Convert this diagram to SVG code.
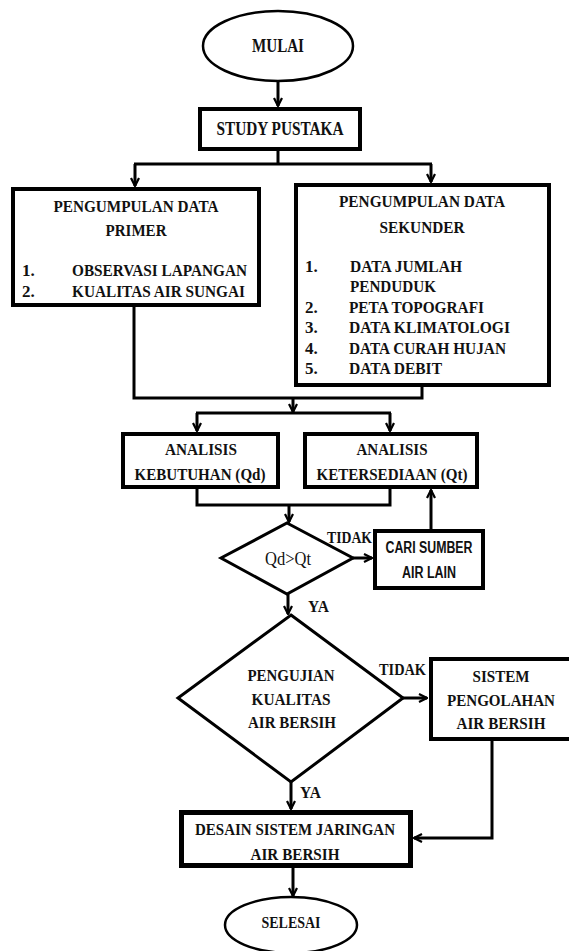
<svg xmlns="http://www.w3.org/2000/svg" width="569" height="951" viewBox="0 0 569 951">
<defs>
<marker id="arr" viewBox="0 0 10 10" refX="9" refY="5" markerWidth="10" markerHeight="10" markerUnits="userSpaceOnUse" orient="auto">
<path d="M1,1 L9,5 L1,9" fill="none" stroke="#000" stroke-width="2.2"/>
</marker>
<style>
.box{fill:#fff;stroke:#000;stroke-width:4}
.thin{fill:#fff;stroke:#000;stroke-width:3}
.t{font-family:"Liberation Serif","Times New Roman",serif;font-weight:bold;font-size:17px;fill:#111}
.c{text-anchor:middle}
.s{font-family:"Liberation Sans",Arial,sans-serif;font-weight:bold;font-size:16px;fill:#111;text-anchor:middle}
.ln{fill:none;stroke:#000;stroke-width:3}
.ar{fill:none;stroke:#000;stroke-width:3;marker-end:url(#arr)}
</style>
</defs>
<rect width="569" height="951" fill="#fff"/>
<g id="connectors">
<path class="ar" d="M278,82 V106"/>
<path class="ln" d="M278,151 V164 M134,164 H432"/>
<path class="ar" d="M135,164 V186"/>
<path class="ar" d="M431,164 V182"/>
<path class="ln" d="M134,307 V398 H422 V387"/>
<path class="ar" d="M293,398 V412"/>
<path class="ln" d="M196,413 H391"/>
<path class="ar" d="M197,413 V431"/>
<path class="ar" d="M390,413 V431"/>
<path class="ln" d="M197,489 V505 H390 V489"/>
<path class="ar" d="M289,505 V522"/>
<path class="ar" d="M353,558 H372"/>
<path class="ar" d="M431,529 V490"/>
<path class="ar" d="M288,594 V614"/>
<path class="ar" d="M403,698 H427"/>
<path class="ar" d="M291,782 V809"/>
<path class="ar" d="M492,740 V838 H414"/>
<path class="ar" d="M293,868 V896"/>
</g>
<g id="mulai">
<ellipse cx="278" cy="46" rx="75" ry="35" fill="#fff" stroke="#000" stroke-width="2.5"/>
<text class="t c" x="278" y="52" style="font-size:18px" textLength="52" lengthAdjust="spacingAndGlyphs">MULAI</text>
</g>
<g id="study">
<rect class="box" x="200" y="109" width="160" height="40"/>
<text class="t c" x="280" y="135" style="font-size:18px" textLength="127" lengthAdjust="spacingAndGlyphs">STUDY PUSTAKA</text>
</g>
<g id="primer">
<rect class="box" x="13" y="189" width="246" height="116"/>
<text class="t c" x="136" y="212" textLength="165" lengthAdjust="spacingAndGlyphs">PENGUMPULAN DATA</text>
<text class="t c" x="136" y="236" textLength="61" lengthAdjust="spacingAndGlyphs">PRIMER</text>
<text class="t" x="22" y="276">1.</text>
<text class="t" x="72" y="276" textLength="175" lengthAdjust="spacingAndGlyphs">OBSERVASI LAPANGAN</text>
<text class="t" x="22" y="297">2.</text>
<text class="t" x="72" y="297" textLength="173" lengthAdjust="spacingAndGlyphs">KUALITAS AIR SUNGAI</text>
</g>
<g id="sekunder">
<rect class="box" x="296" y="185" width="253" height="200"/>
<text class="t c" x="422" y="207" textLength="166" lengthAdjust="spacingAndGlyphs">PENGUMPULAN DATA</text>
<text class="t c" x="422" y="233" textLength="85" lengthAdjust="spacingAndGlyphs">SEKUNDER</text>
<text class="t" x="305" y="272">1.</text>
<text class="t" x="350" y="272" textLength="112" lengthAdjust="spacingAndGlyphs">DATA JUMLAH</text>
<text class="t" x="350" y="292" textLength="86" lengthAdjust="spacingAndGlyphs">PENDUDUK</text>
<text class="t" x="305" y="313">2.</text>
<text class="t" x="349" y="313" textLength="135" lengthAdjust="spacingAndGlyphs">PETA TOPOGRAFI</text>
<text class="t" x="305" y="333">3.</text>
<text class="t" x="349" y="333" textLength="161" lengthAdjust="spacingAndGlyphs">DATA KLIMATOLOGI</text>
<text class="t" x="305" y="354">4.</text>
<text class="t" x="349" y="354" textLength="157" lengthAdjust="spacingAndGlyphs">DATA CURAH HUJAN</text>
<text class="t" x="305" y="374">5.</text>
<text class="t" x="349" y="374" textLength="93" lengthAdjust="spacingAndGlyphs">DATA DEBIT</text>
</g>
<g id="kebutuhan">
<rect class="box" x="123" y="434" width="155" height="53"/>
<text class="t c" x="201" y="455" textLength="72" lengthAdjust="spacingAndGlyphs">ANALISIS</text>
<text class="t c" x="200" y="480" textLength="131" lengthAdjust="spacingAndGlyphs">KEBUTUHAN (Qd)</text>
</g>
<g id="ketersediaan">
<rect class="box" x="305" y="434" width="172" height="53"/>
<text class="t c" x="392" y="455" textLength="71" lengthAdjust="spacingAndGlyphs">ANALISIS</text>
<text class="t c" x="392" y="480" textLength="151" lengthAdjust="spacingAndGlyphs">KETERSEDIAAN (Qt)</text>
</g>
<g id="qdqt">
<polygon class="thin" points="287,523 353,558 287,594 221,558"/>
<text x="288" y="565" textLength="46" lengthAdjust="spacingAndGlyphs" style="font-family:'Liberation Serif','Times New Roman',serif;font-size:18px;fill:#111;text-anchor:middle">Qd&gt;Qt</text>
<text class="t" x="327" y="543" textLength="45" lengthAdjust="spacingAndGlyphs">TIDAK</text>
<text class="t" x="308" y="612" textLength="21" lengthAdjust="spacingAndGlyphs">YA</text>
</g>
<g id="cari">
<rect class="box" x="375" y="531" width="108" height="57"/>
<text class="s" x="429" y="553" textLength="87" lengthAdjust="spacingAndGlyphs">CARI SUMBER</text>
<text class="s" x="429" y="578" textLength="54" lengthAdjust="spacingAndGlyphs">AIR LAIN</text>
</g>
<g id="pengujian">
<polygon class="thin" points="291,615 403,698 291,782 178,698"/>
<text class="t c" x="291" y="681" textLength="87" lengthAdjust="spacingAndGlyphs">PENGUJIAN</text>
<text class="t c" x="291" y="705" textLength="79" lengthAdjust="spacingAndGlyphs">KUALITAS</text>
<text class="t c" x="292" y="728" textLength="88" lengthAdjust="spacingAndGlyphs">AIR BERSIH</text>
<text class="t" x="379" y="675" textLength="47" lengthAdjust="spacingAndGlyphs">TIDAK</text>
<text class="t" x="300" y="798" textLength="21" lengthAdjust="spacingAndGlyphs">YA</text>
</g>
<g id="pengolahan">
<rect class="box" x="431" y="659" width="145" height="80"/>
<text class="t c" x="501" y="682" textLength="57" lengthAdjust="spacingAndGlyphs">SISTEM</text>
<text class="t c" x="501" y="706" textLength="108" lengthAdjust="spacingAndGlyphs">PENGOLAHAN</text>
<text class="t c" x="501" y="729" textLength="89" lengthAdjust="spacingAndGlyphs">AIR BERSIH</text>
</g>
<g id="desain">
<rect x="181.5" y="812.5" width="229" height="53" fill="#fff" stroke="#000" stroke-width="5"/>
<text class="t c" x="295" y="835" textLength="200" lengthAdjust="spacingAndGlyphs">DESAIN SISTEM JARINGAN</text>
<text class="t c" x="295" y="860" textLength="89" lengthAdjust="spacingAndGlyphs">AIR BERSIH</text>
</g>
<g id="selesai">
<ellipse cx="291" cy="925" rx="66" ry="28" fill="#fff" stroke="#000" stroke-width="2.5"/>
<text class="t c" x="291" y="928" textLength="59" lengthAdjust="spacingAndGlyphs">SELESAI</text>
</g>
</svg>
